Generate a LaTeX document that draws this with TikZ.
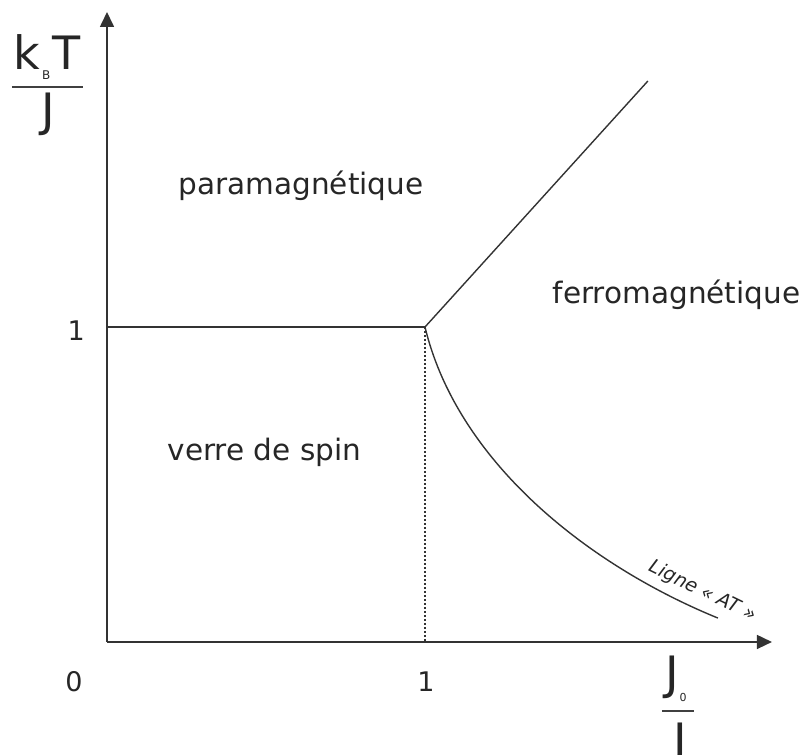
\documentclass[tikz,border=0pt]{standalone}
\usepackage{fontspec}
\setmainfont{DejaVu Sans}
\usetikzlibrary{arrows.meta}

\begin{document}
\begin{tikzpicture}[
    x=318pt, y=315pt,
    >={Triangle[length=15pt, width=14pt]},
    axis_line/.style={->, black!80, line width=1.6pt},
    phase_line/.style={black!80, line width=1.4pt},
    frac_bar/.style={black!75, line width=1.7pt},
    tick_label/.style={anchor=base, text=black!85, inner sep=0pt, font=\fontsize{27}{32}\selectfont},
    region_label/.style={anchor=base, text=black!85, inner sep=0pt, font=\fontsize{29.5}{34}\selectfont},
    big_label/.style={anchor=base, text=black!85, inner sep=0pt, font=\fontsize{46}{50}\selectfont}
]
    \useasboundingbox (-0.3365,-0.3556) rectangle (2.195,2.0381);

    % Achsen
    \coordinate (O) at (0,0);
    \coordinate (Xend) at (2.091,0);
    \coordinate (Yend) at (0,2.0);
    \draw[axis_line] (O) -- (Xend);
    \draw[axis_line] (O) -- (Yend);

    % Phasengrenzen
    \coordinate (Tc) at (0,1);
    \coordinate (M) at (1,1);
    \coordinate (Mbase) at (1,0);
    \coordinate (Ftop) at (1.701,1.781);
    \coordinate (ATend) at (1.921,0.076);

    \draw[phase_line] (Tc) -- (M);
    \draw[phase_line] (M) -- (Ftop);
    \draw[phase_line, line width=2pt, dash pattern=on 2pt off 2pt] (M) -- (Mbase);
    \draw[phase_line] (M) .. controls (1.1,0.58) and (1.5,0.25) .. (ATend);

    % Ligne AT
    \node[rotate=-26, text=black!85, inner sep=0pt, font=\fontsize{19}{22}\selectfont\itshape] (at_label)
        at (1.872,0.160) {Ligne « AT »};

    % Phasen
    \node[region_label] (para) at (0.610,1.422) {paramagnétique};
    \node[region_label] (ferro) at (1.791,1.076) {ferromagnétique};
    \node[region_label] (verre) at (0.495,0.575) {verre de spin};

    % Achsenbeschriftung
    \node[tick_label] (y_one) at (-0.097,0.956) {1};
    \node[tick_label] (zero) at (-0.104,-0.156) {0};
    \node[tick_label] (x_one) at (1.003,-0.156) {1};

    % k_B T / J
    \node[big_label] (kT) at (-0.189,1.816)
        {k\hspace{2pt}\raisebox{-10pt}{\fontsize{12}{12}\selectfont B}\hspace{2pt}T};
    \coordinate (bar_yl) at (-0.299,1.762);
    \coordinate (bar_yr) at (-0.075,1.762);
    \draw[frac_bar] (bar_yl) -- (bar_yr);
    \node[big_label] (J_y) at (-0.186,1.635) {J};

    % J_0 / J
    \node[big_label] (J0) at (1.790,-0.152)
        {J\raisebox{-12pt}{\fontsize{11}{11}\selectfont 0}};
    \coordinate (bar_xl) at (1.745,-0.219);
    \coordinate (bar_xr) at (1.846,-0.219);
    \draw[frac_bar] (bar_xl) -- (bar_xr);
    \node[big_label] (J_x) at (1.802,-0.362) {J};

\end{tikzpicture}
\end{document}
